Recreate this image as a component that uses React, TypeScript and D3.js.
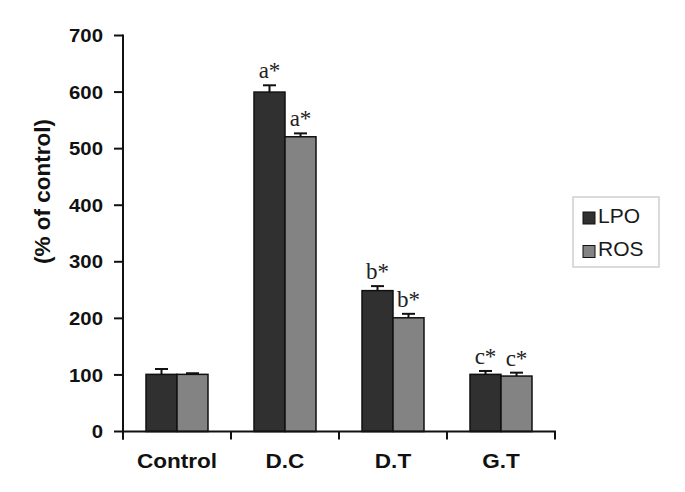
import React from "react";
import * as d3 from "d3";

const categories = ["Control", "D.C", "D.T", "G.T"];
const seriesNames = ["LPO", "ROS"];
const lpoValues = [101, 600, 249, 101];
const lpoErrors = [9.5, 12, 8, 6];
const rosValues = [101, 521, 201, 98];
const rosErrors = [2, 6, 7, 6];
const lpoLabels = ["", "a*", "b*", "c*"];
const rosLabels = ["", "a*", "b*", "c*"];
const yTicks = [0, 100, 200, 300, 400, 500, 600, 700];
const colors = ["#303030", "#838383"];

const W = 685;
const H = 492;
const margin = { left: 123, right: 130, top: 35.5, bottom: 60.5 };

export default function App() {
  const x0 = d3
    .scaleBand<string>()
    .domain(categories)
    .range([margin.left, W - margin.right])
    .padding(0);
  const x1 = d3
    .scaleBand<string>()
    .domain(seriesNames)
    .range([0, x0.bandwidth()])
    .paddingInner(0)
    .paddingOuter(0.742);
  const y = d3
    .scaleLinear()
    .domain([0, 700])
    .range([H - margin.bottom, margin.top]);

  const series = [
    { name: "LPO", values: lpoValues, errors: lpoErrors, labels: lpoLabels, color: colors[0] },
    { name: "ROS", values: rosValues, errors: rosErrors, labels: rosLabels, color: colors[1] },
  ];

  const y0 = y(0);
  const xEnd = W - margin.right;
  const boundaries = [...categories.map((c) => x0(c) as number), xEnd];
  const sans = "'Liberation Sans', Arial, sans-serif";
  const serif = "'Liberation Serif', 'Times New Roman', serif";

  return (
    <svg
      width={W}
      height={H}
      style={{ position: "absolute", left: 0, top: 0, background: "#fff" }}
    >
      {/* bars */}
      {series.map((s) =>
        categories.map((c, i) => {
          const bx = (x0(c) as number) + (x1(s.name) as number);
          const bw = x1.bandwidth();
          const top = y(s.values[i]);
          const eTop = y(s.values[i] + s.errors[i]);
          const cx = bx + bw / 2;
          return (
            <g key={s.name + c}>
              <rect
                x={bx}
                y={top}
                width={bw}
                height={y0 - top}
                fill={s.color}
                stroke="#111"
                strokeWidth={1.5}
              />
              <line x1={cx} x2={cx} y1={top} y2={eTop} stroke="#111" strokeWidth={2} />
              <line x1={cx - 6.5} x2={cx + 6.5} y1={eTop} y2={eTop} stroke="#111" strokeWidth={2} />
              {s.labels[i] && (
                <text
                  x={cx}
                  y={eTop - 7}
                  textAnchor="middle"
                  fontFamily={serif}
                  fontSize={23}
                  fill="#222"
                >
                  {s.labels[i]}
                </text>
              )}
            </g>
          );
        })
      )}

      {/* y axis */}
      <line x1={margin.left} x2={margin.left} y1={y(700) - 1} y2={y0 + 8} stroke="#111" strokeWidth={2} />
      {yTicks.map((t) => (
        <g key={t}>
          <line x1={margin.left - 9} x2={margin.left} y1={y(t)} y2={y(t)} stroke="#111" strokeWidth={2} />
          <text
            transform={`translate(${margin.left - 20},${y(t)}) scale(1.1,1)`}
            textAnchor="end"
            dy="0.36em"
            fontFamily={sans}
            fontWeight="bold"
            fontSize={18.5}
            fill="#111"
          >
            {t}
          </text>
        </g>
      ))}
      <text
        transform={`translate(50,${(y(700) + y0) / 2 - 42}) rotate(-90)`}
        textAnchor="middle"
        fontFamily={sans}
        fontWeight="bold"
        fontSize={22.5}
        fill="#111"
      >
        (% of control)
      </text>

      {/* x axis */}
      <line x1={margin.left} x2={xEnd + 1} y1={y0} y2={y0} stroke="#111" strokeWidth={2} />
      {boundaries.map((bx, i) => (
        <line key={i} x1={bx} x2={bx} y1={y0} y2={y0 + 8} stroke="#111" strokeWidth={2} />
      ))}
      {categories.map((c) => (
        <text
          key={c}
          transform={`translate(${(x0(c) as number) + x0.bandwidth() / 2},${y0 + 36.5}) scale(1.1,1)`}
          textAnchor="middle"
          fontFamily={sans}
          fontWeight="bold"
          fontSize={20.5}
          fill="#111"
        >
          {c}
        </text>
      ))}

      {/* legend */}
      <rect x={573} y={197} width={86} height={70} fill="#fff" stroke="#cfcfcf" strokeWidth={1.5} />
      {series.map((s, i) => (
        <g key={s.name} transform={`translate(583,${212 + i * 33.5})`}>
          <rect x={0} y={0} width={12} height={12} fill={s.color} stroke="#111" strokeWidth={1} />
          <text
            transform="translate(15,10.5) scale(1.05,1)"
            fontFamily={sans}
            fontSize={20}
            fill="#1a1a1a"
          >
            {s.name}
          </text>
        </g>
      ))}
    </svg>
  );
}
